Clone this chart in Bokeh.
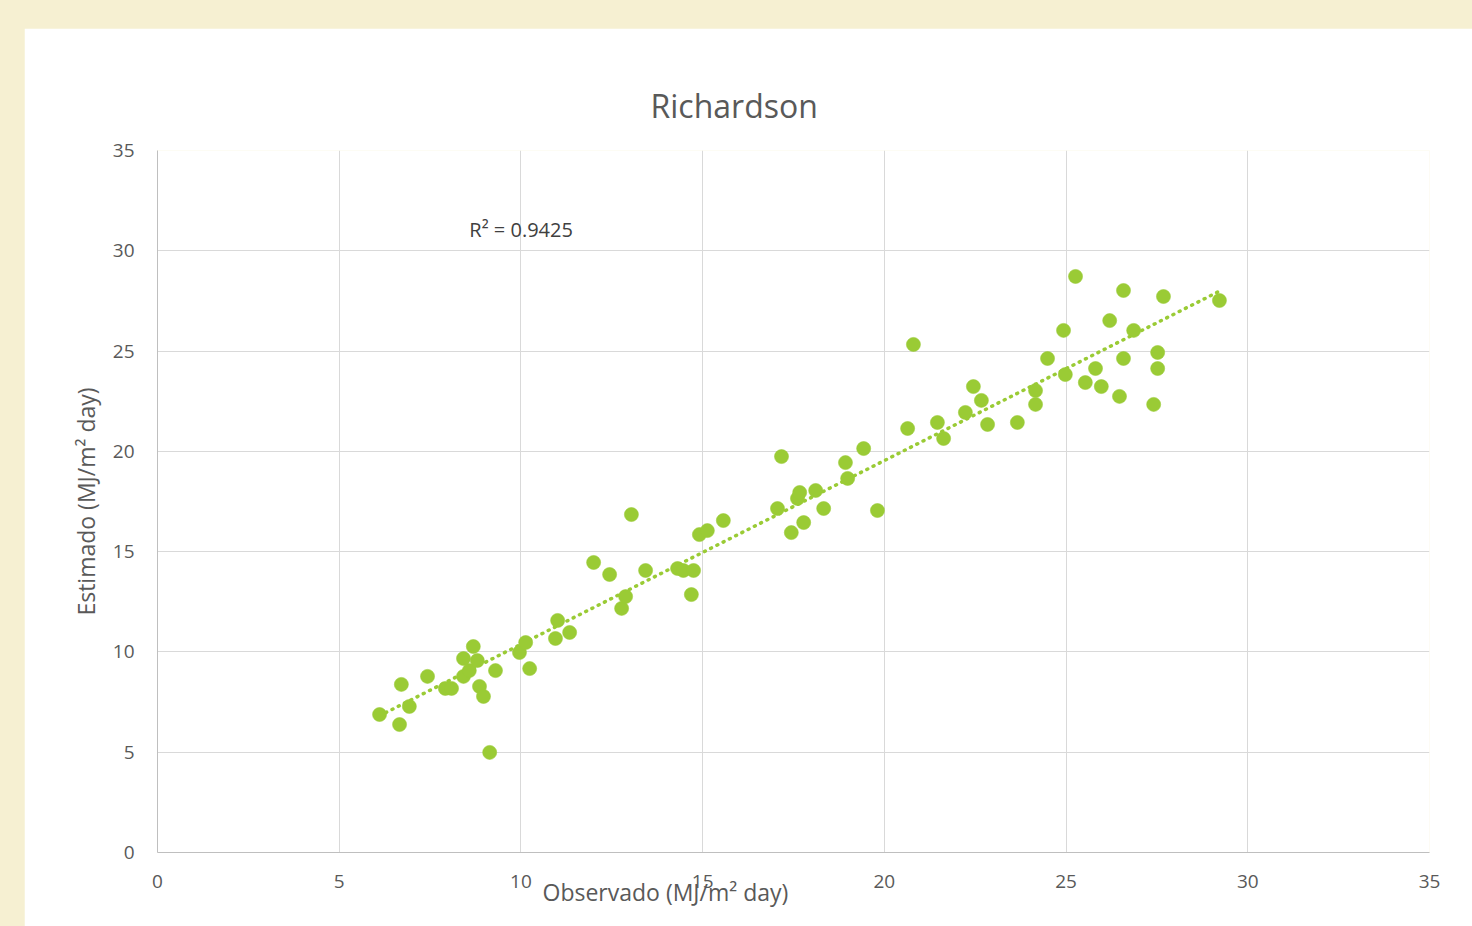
import numpy as np
from bokeh.plotting import figure
from bokeh.models import Label, Range1d, Spacer, ColumnDataSource, FixedTicker, Title
from bokeh.layouts import column, row
from bokeh.embed import file_html
from bokeh.resources import INLINE

# ---- data ----
observado = [6.11, 6.66, 6.71, 6.93, 7.43, 7.92, 8.09, 8.42, 8.42, 8.58,
             8.69, 8.80, 8.86, 8.97, 9.14, 9.30, 9.96, 10.13, 10.24, 10.95,
             11.01, 11.34, 12.00, 12.44, 12.77, 12.88, 13.04, 13.43, 14.31, 14.47,
             14.69, 14.75, 14.91, 15.13, 15.57, 17.06, 17.17, 17.44, 17.61, 17.67,
             17.78, 18.11, 18.33, 18.93, 18.99, 19.43, 19.81, 20.64, 20.80, 21.46,
             21.63, 22.23, 22.45, 22.67, 22.84, 23.66, 24.16, 24.16, 24.49, 24.93,
             24.98, 25.26, 25.53, 25.81, 25.97, 26.20, 26.47, 26.58, 26.58, 26.86,
             27.41, 27.52, 27.52, 27.68, 29.22]
estimado = [6.88, 6.38, 8.38, 7.28, 8.78, 8.18, 8.18, 9.67, 8.78, 9.07,
            10.27, 9.57, 8.28, 7.78, 4.99, 9.07, 9.97, 10.47, 9.17, 10.67,
            11.57, 10.97, 14.46, 13.86, 12.17, 12.76, 16.85, 14.06, 14.16, 14.06,
            12.86, 14.06, 15.85, 16.05, 16.55, 17.15, 19.74, 15.95, 17.65, 17.95,
            16.45, 18.05, 17.15, 19.44, 18.65, 20.14, 17.05, 21.14, 25.33, 21.44,
            20.64, 21.94, 23.23, 22.54, 21.34, 21.44, 23.03, 22.34, 24.63, 26.03,
            23.83, 28.72, 23.43, 24.13, 23.23, 26.52, 22.74, 28.02, 24.63, 26.03,
            22.34, 24.93, 24.13, 27.72, 27.52]
x_ticks = [0, 5, 10, 15, 20, 25, 30, 35]
y_ticks = [0, 5, 10, 15, 20, 25, 30, 35]
r2_text = "R² = 0.9425"
title_text = "Richardson"
x_label = "Observado (MJ/m² day)"
y_label = "Estimado (MJ/m² day)"

GREEN = "#9ACB35"
TXT = "#595959"
FONT = "Open Sans"

p = figure(width=1448, height=898, output_backend="svg", toolbar_location=None,
           x_range=Range1d(0, 35), y_range=Range1d(0, 35),
           min_border_left=133, min_border_right=43,
           min_border_top=122, min_border_bottom=74)
p.border_fill_color = "white"
p.background_fill_color = "white"
p.outline_line_color = None

p.title.text = title_text
p.title.text_font = FONT
p.title.text_font_size = "32px"
p.title.text_font_style = "normal"
p.title.text_color = TXT
p.title.align = "left"
p.title.offset = 493
p.title.standoff = 47

for ax in (p.xaxis[0], p.yaxis[0]):
    ax.major_tick_line_color = None
    ax.minor_tick_line_color = None
    ax.axis_line_color = "#BFBFBF"
    ax.major_label_text_color = TXT
    ax.major_label_text_font = FONT
    ax.major_label_text_font_size = "19px"
p.xaxis[0].ticker = FixedTicker(ticks=x_ticks)
p.yaxis[0].ticker = FixedTicker(ticks=y_ticks)
p.xaxis[0].major_label_standoff = 16
p.yaxis[0].major_label_standoff = 17

p.yaxis[0].axis_label = y_label
p.yaxis[0].axis_label_text_font = FONT
p.yaxis[0].axis_label_text_font_size = "23px"
p.yaxis[0].axis_label_text_font_style = "normal"
p.yaxis[0].axis_label_text_color = TXT
p.yaxis[0].axis_label_standoff = 8

# x-axis title: placed where the reference has it (overlapping the tick row)
xt = Title(text=x_label, align="left", offset=385, standoff=-34,
           text_font=FONT, text_font_size="23px", text_font_style="normal",
           text_color=TXT)
p.add_layout(xt, "below")

p.xgrid[0].ticker = FixedTicker(ticks=x_ticks)
p.ygrid[0].ticker = FixedTicker(ticks=y_ticks)
p.xgrid[0].grid_line_color = "#D9D9D9"
p.ygrid[0].grid_line_color = "#D9D9D9"

# trendline (least squares through data)
xa = np.array(observado)
ya = np.array(estimado)
m, b = np.polyfit(xa, ya, 1)
tx = [xa.min(), xa.max()]
ty = [m * tx[0] + b, m * tx[1] + b]
p.line(tx, ty, line_color=GREEN, line_width=3.5, line_dash="1 6", line_cap="round")

src = ColumnDataSource(dict(x=observado, y=estimado))
p.scatter("x", "y", source=src, size=14, fill_color=GREEN, line_color=GREEN, line_alpha=0.6)

p.add_layout(Label(x=8.58, y=31.06, text=r2_text, text_align="left",
                   text_baseline="middle", text_font=FONT, text_font_size="20px",
                   text_color="#404040"))

layout = column(Spacer(width=1472, height=28),
                row(Spacer(width=24, height=898), p))

html = file_html(layout, INLINE, title="Richardson")
html = html.replace("<head>", "<head><style>html,body{margin:0;padding:0;background:#F6F0D2;overflow:hidden}</style>", 1)
open("out.html", "w").write(html)
